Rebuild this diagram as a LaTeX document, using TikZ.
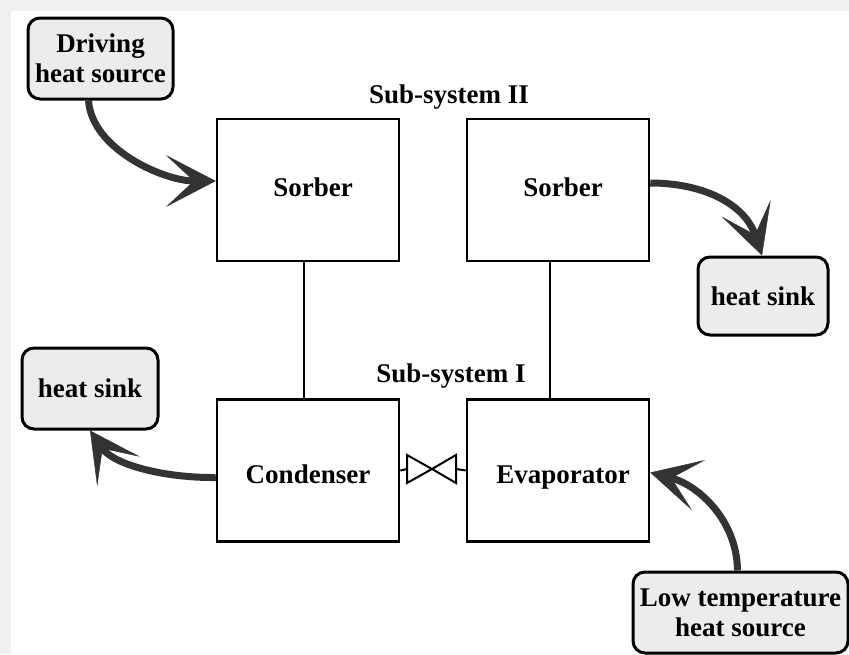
\documentclass[tikz,border=0pt]{standalone}
\usepackage{fontspec}
\setmainfont{Liberation Serif}
\usetikzlibrary{arrows.meta,calc}
\begin{document}
\begin{tikzpicture}[x=1pt,y=-1pt,
  box/.style={draw, line width=2.5pt, minimum width=182pt, minimum height=142pt, inner sep=0pt},
  rbox/.style={draw, line width=3pt, rounded corners=12pt, fill=gray!15, inner sep=0pt, align=center, font=\bfseries\fontsize{27}{30}\selectfont},
  lbl/.style={anchor=base, inner sep=0pt, font=\bfseries\fontsize{27}{30}\selectfont},
  heat/.style={line width=7pt, draw=black!80, -{Stealth[length=50pt,width=52pt,inset=28pt,line width=0.5pt]}},
  pipe/.style={line width=2pt},
]
\useasboundingbox (0,0) rectangle (849,654);
\fill[gray!12] (0,0) rectangle (849,654);
\fill[white] (11,11) rectangle (849,654);

% main boxes
\node[box] (sorbL) at (308,190) {};
\node[box] (sorbR) at (558,190) {};
\node[box] (cond) at (308,470.5) {};
\node[box] (evap) at (558,470.5) {};

\node[lbl] (tsorbL) at (313,196) {Sorber};
\node[lbl] (tsorbR) at (563,196) {Sorber};
\node[lbl] (tcond) at (308,483) {Condenser};
\node[lbl] (tevap) at (563,483) {Evaporator};

\node[lbl] (sub2) at (449,103) {Sub-system II};
\node[lbl] (sub1) at (451,382) {Sub-system I};

% rounded boxes
\node[rbox, minimum width=145pt, minimum height=81pt] (drive) at (100.5,58.5) {Driving\\heat source};
\node[rbox, minimum width=130pt, minimum height=78pt] (sinkR) at (763,296) {heat sink};
\node[rbox, minimum width=136pt, minimum height=81pt] (sinkL) at (90,388.5) {heat sink};
\node[rbox, minimum width=215pt, minimum height=81pt] (lowT) at (740.5,612.5) {Low temperature\\heat source};

% vertical connectors
\draw[pipe] ([xshift=-4pt]sorbL.south) -- ([xshift=-4pt]cond.north);
\draw[pipe] ([xshift=-8pt]sorbR.south) -- ([xshift=-8pt]evap.north);

% valve
\coordinate (v) at (432,469);
\coordinate (vl) at (407,469);
\coordinate (vr) at (456,469);
\draw[pipe] (cond.east) -- (vl);
\draw[pipe] (vr) -- (evap.west);
\draw[pipe, line join=miter] ($(vl)+(0,-14)$) -- ($(vl)+(0,14)$) -- (v) -- cycle;
\draw[pipe, line join=miter] ($(vr)+(0,-14)$) -- ($(vr)+(0,14)$) -- (v) -- cycle;

% heat flow arrows
\draw[heat] ($(drive.south)+(-12,0)$) .. controls (92,150) and (165,181) .. ($(sorbL.west)+(0,-9)$);
\draw[heat] ($(sorbR.east)+(0,-7)$) .. controls (705,183) and (745,205) .. ($(sinkR.north)+(-1,0)$);
\draw[heat] ($(cond.west)+(0,7)$) .. controls (165,478) and (114,465) .. (sinkL.south);
\draw[heat] ($(lowT.north)+(-3,0)$) .. controls (737,520) and (698,485) .. ($(evap.east)+(0,2)$);
\end{tikzpicture}
\end{document}
